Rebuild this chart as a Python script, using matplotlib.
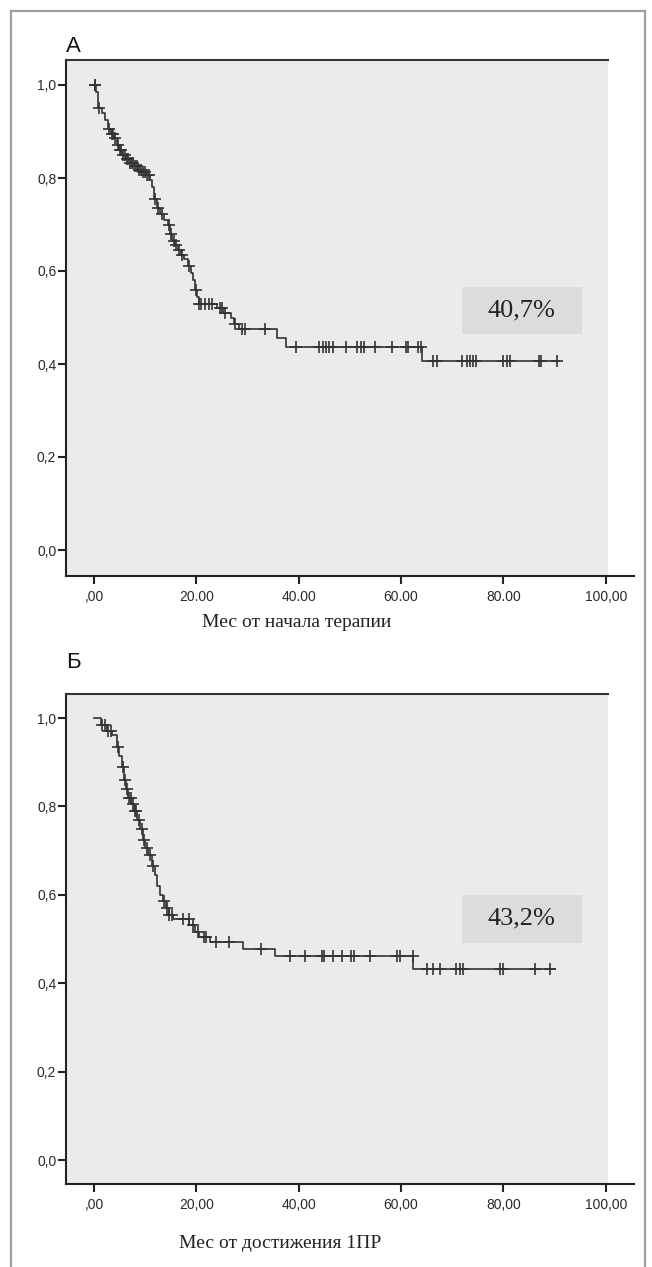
import numpy as np
import matplotlib.pyplot as plt
from matplotlib.lines import Line2D

# --- panel A: months from start of therapy ---
a_times = [0.3, 0.8, 1.5, 2.2, 2.8, 3.3, 3.9, 4.4, 4.9, 5.5, 6.2, 7.0, 7.8, 8.6,
           9.4, 10.2, 10.9, 11.4, 11.7, 12.3, 12.8, 13.6, 14.4, 14.9, 15.3, 15.8,
           16.4, 17.0, 17.6, 18.3, 18.9, 19.3, 19.7, 20.1, 20.5, 24.0, 25.2, 26.8,
           27.4, 28.4, 35.8, 37.6, 64.0]
a_surv = [0.985, 0.95, 0.94, 0.925, 0.905, 0.895, 0.885, 0.87, 0.86, 0.85, 0.84,
          0.832, 0.825, 0.818, 0.812, 0.806, 0.795, 0.78, 0.755, 0.735, 0.722, 0.71,
          0.70, 0.68, 0.665, 0.655, 0.645, 0.635, 0.625, 0.61, 0.595, 0.58, 0.56,
          0.545, 0.53, 0.52, 0.51, 0.50, 0.485, 0.475, 0.455, 0.437, 0.407]
a_end = 90.8
a_cens = [0.2, 0.25, 1.0, 3.0, 3.5, 3.8, 4.2, 4.6, 5.0, 5.3, 5.7, 6.0, 6.4, 6.7, 7.1,
          7.4, 7.7, 8.1, 8.4, 8.8, 9.2, 9.6, 10.0, 10.4, 10.7, 11.9, 12.6, 13.3, 14.6,
          15.1, 15.6, 16.1, 16.6, 17.2, 18.5, 20.0, 20.6, 21.0, 21.6, 22.5, 23.0,
          24.6, 25.0, 25.6, 27.5, 29.0, 29.5, 33.5, 39.4, 44.0, 44.7, 45.3, 46.0,
          46.7, 49.3, 51.4, 52.1, 52.7, 54.9, 58.3, 60.9, 61.4, 63.3, 63.9, 66.3,
          67.1, 71.8, 72.8, 73.4, 74.1, 74.7, 79.9, 80.6, 81.2, 87.0, 87.4, 90.4]
a_xticklabels = [',00', '20.00', '40.00', '60.00', '80.00', '100,00']
a_label = 'Мес от начала терапии'
a_pct = '40,7%'

# --- panel B: months from reaching 1PR ---
b_times = [1.3, 2.5, 3.6, 4.4, 4.8, 5.4, 5.9, 6.3, 6.7, 7.3, 7.9, 8.4, 9.0, 9.5,
           10.0, 10.6, 11.3, 11.9, 12.4, 12.9, 13.4, 14.0, 14.6, 15.4, 18.6, 19.8,
           20.6, 22.6, 29.1, 35.4, 62.4]
b_surv = [0.985, 0.97, 0.962, 0.935, 0.915, 0.89, 0.86, 0.84, 0.82, 0.805, 0.79,
          0.77, 0.75, 0.725, 0.705, 0.69, 0.665, 0.645, 0.62, 0.60, 0.585, 0.57,
          0.555, 0.545, 0.532, 0.515, 0.505, 0.494, 0.478, 0.462, 0.432]
b_end = 90.0
b_cens = [1.6, 2.2, 2.8, 3.3, 4.6, 5.6, 6.0, 6.5, 6.9, 7.2, 7.6, 8.0, 8.3, 8.7, 9.3,
          9.8, 10.4, 11.0, 11.6, 13.7, 14.2, 14.6, 15.2, 17.3, 18.5, 19.4, 20.3,
          21.4, 21.9, 23.8, 26.4, 32.7, 38.3, 41.2, 44.5, 44.9, 46.7, 48.4, 50.3,
          50.8, 53.9, 59.1, 59.8, 62.3, 65.0, 66.3, 67.6, 70.8, 71.5, 72.1, 79.3,
          79.9, 86.1, 89.1]
b_xticklabels = [',00', '20,00', '40,00', '60,00', '80,00', '100,00']
b_label = 'Мес от достижения 1ПР'
b_pct = '43,2%'

xticks = [0, 20, 40, 60, 80, 100]
yticks = [0.0, 0.2, 0.4, 0.6, 0.8, 1.0]
yticklabels = ['0,0', '0,2', '0,4', '0,6', '0,8', '1,0']

W, H = 652, 1267
fig = plt.figure(figsize=(W / 100, H / 100), dpi=100)
fig.patch.set_facecolor('white')

sans = ['Liberation Sans', 'DejaVu Sans']
serif = ['Liberation Serif', 'DejaVu Serif']
line_col = '#333333'


def km_panel(ax, times, surv, end, cens, xlabels, pct, box_y):
    ax.set_xlim(-5.47, 105.5)
    t = np.concatenate([[0.0], times, [end]])
    s = np.concatenate([[1.0], surv, [surv[-1]]])
    # grey plot area ending near x=100
    ax.axvspan(-5.47, 100.4, color='#ebebeb', zorder=0, lw=0)
    ax.step(t, s, where='post', color=line_col, lw=1.2, zorder=3)
    # censor marks sit on the curve
    idx = np.searchsorted(t, cens, side='right') - 1
    ax.plot(cens, s[idx], ls='none', marker='+', ms=8, mew=1.2,
            color=line_col, zorder=4)
    # percentage box
    ax.add_patch(plt.Rectangle((71.9, box_y[0]), 23.4, box_y[1] - box_y[0],
                               color='#dcdcdc', lw=0, zorder=2))
    ax.text(83.6, (box_y[0] + box_y[1]) / 2, pct, ha='center', va='center',
            fontsize=19, family=serif, color='#222222', zorder=5)
    ax.set_facecolor('white')
    for side in ['top', 'right']:
        ax.spines[side].set_visible(False)
    for side in ['left', 'bottom']:
        ax.spines[side].set_linewidth(1.5)
        ax.spines[side].set_color('#222222')
    ytop = ax.get_ylim()[1]
    ax.plot([-5.47, 100.4], [ytop, ytop], color='#333333', lw=1.5,
            clip_on=False, zorder=6)
    ax.set_xticks(xticks)
    ax.set_xticklabels(xlabels)
    ax.set_yticks(yticks)
    ax.set_yticklabels(yticklabels)
    ax.tick_params(axis='both', direction='out', length=6, width=1.5,
                   color='#222222', labelsize=10, labelcolor='#2a2a2a')
    ax.tick_params(axis='x', pad=4)
    ax.tick_params(axis='y', pad=1)
    for lab in ax.get_xticklabels() + ax.get_yticklabels():
        lab.set_family(sans)


# top panel: y 1.0 at 85 px, 0.0 at 550 px; axes 60..576 px
ax1 = fig.add_axes([66 / W, 1 - 576 / H, (634 - 66) / W, (576 - 60) / H])
ax1.set_ylim((550 - 576) / 465, (550 - 60) / 465)
km_panel(ax1, a_times, a_surv, a_end, a_cens, a_xticklabels, a_pct, (0.465, 0.566))

# bottom panel: y 1.0 at 718 px, 0.0 at 1160 px; axes 694..1184 px
ax2 = fig.add_axes([66 / W, 1 - 1184 / H, (634 - 66) / W, (1184 - 694) / H])
ax2.set_ylim((1160 - 1184) / 442, (1160 - 694) / 442)
km_panel(ax2, b_times, b_surv, b_end, b_cens, b_xticklabels, b_pct, (0.492, 0.600))

# axis titles and panel letters
fig.text(297 / W, 1 - 622 / H, a_label, ha='center', va='center',
         fontsize=14, family=serif, color='#222222')
fig.text(280 / W, 1 - 1243 / H, b_label, ha='center', va='center',
         fontsize=14, family=serif, color='#222222')
fig.text(66 / W, 1 - 52 / H, 'А', ha='left', va='baseline', fontsize=16,
         family=sans, color='#111111')
fig.text(66 / W, 1 - 668 / H, 'Б', ha='left', va='baseline', fontsize=16,
         family=sans, color='#111111')

# outer grey frame (open at the bottom)
fc = '#a0a0a0'
fig.add_artist(Line2D([11 / W, 11 / W], [0, 1 - 11 / H], color=fc, lw=1.6))
fig.add_artist(Line2D([645 / W, 645 / W], [0, 1 - 11 / H], color=fc, lw=1.6))
fig.add_artist(Line2D([11 / W, 645 / W], [1 - 11 / H, 1 - 11 / H], color=fc, lw=1.6))

fig.savefig('out.png', dpi=100)
